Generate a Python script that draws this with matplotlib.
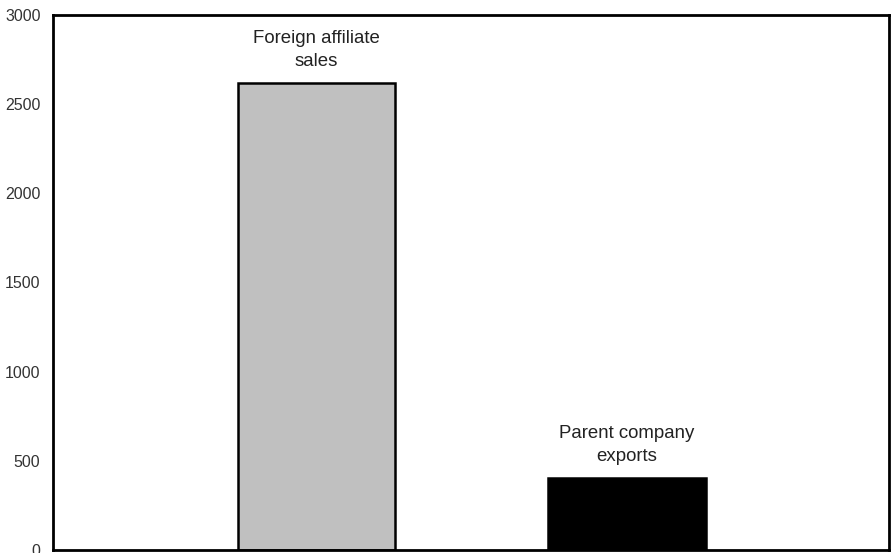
import matplotlib
matplotlib.use('Agg')
import matplotlib.pyplot as plt

plt.rcParams['font.family'] = ['Liberation Sans', 'DejaVu Sans']

categories = ['Foreign affiliate\nsales', 'Parent company\nexports']
values = [2620, 405]
colors = ['#c0c0c0', '#000000']
yticks = [0, 500, 1000, 1500, 2000, 2500, 3000]

fig = plt.figure(figsize=(8.91, 5.53), dpi=100)
ax = fig.add_axes([53 / 891, 3 / 553, 836 / 891, 535 / 553])

x = [1, 2]
bars = ax.bar(x, values, width=0.506, color=colors, edgecolor='black', linewidth=1.8)

for xi, v, lab in zip(x, values, categories):
    ax.annotate(lab, (xi, v), xytext=(0, 9), textcoords='offset points',
                ha='center', va='bottom', fontsize=13.4, color='#222222',
                linespacing=1.45)

ax.set_xlim(0.151, 2.844)
ax.set_ylim(0, 3000)
ax.set_yticks(yticks)
ax.set_xticks([])
ax.tick_params(axis='y', length=0, pad=9, labelsize=11.5, labelcolor='#333333')
for s in ax.spines.values():
    s.set_linewidth(2)

plt.savefig('out.png', dpi=100)
